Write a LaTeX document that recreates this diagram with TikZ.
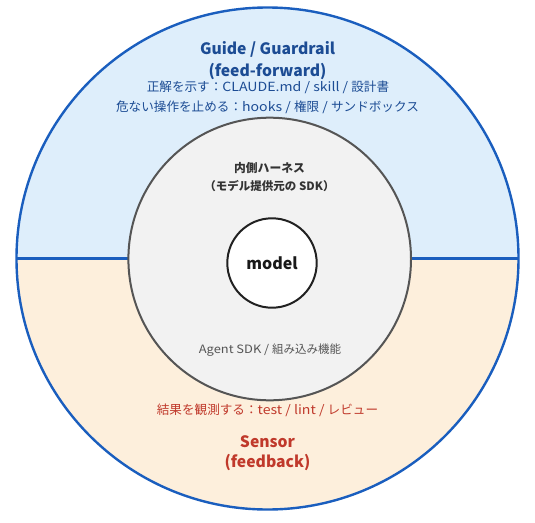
\documentclass[tikz,border=0pt]{standalone}
\usepackage{fontspec}
\setmainfont{Noto Sans CJK JP}
\newfontfamily\jp{Noto Sans CJK JP}
\newfontfamily\lat[FakeStretch=1.12]{Noto Sans CJK JP}
\definecolor{topfill}{HTML}{DEEEFB}
\definecolor{botfill}{HTML}{FDEFDC}
\definecolor{outerline}{HTML}{1A5EBE}
\definecolor{guidetext}{HTML}{1C4C94}
\definecolor{sensortext}{HTML}{C0392B}
\definecolor{midfill}{HTML}{F2F2F2}
\definecolor{midline}{HTML}{555555}
\definecolor{midtext}{HTML}{333333}
\tikzset{
  lbl/.style={inner sep=0pt, anchor=center},
  ttl/.style={lbl, font=\fontsize{15.7}{18}\selectfont\bfseries},
  sub/.style={lbl, font=\fontsize{12.6}{14}\selectfont},
}
\begin{document}
\begin{tikzpicture}[x=1pt,y=-1pt]
\useasboundingbox (0,0) rectangle (535,522);
\coordinate (oc) at (267.5,258.5);
\begin{scope}
  \clip (oc) circle (251);
  \fill[topfill] (0,0) rectangle (535,258.5);
  \fill[botfill] (0,258.5) rectangle (535,522);
\end{scope}
\draw[outerline, line width=2.4pt] (oc) circle (251);
\coordinate (dl) at (16.5,258.5);
\coordinate (dr) at (518.5,258.5);
\draw[outerline, line width=2.4pt] (dl) -- (dr);
\node[circle, draw=midline, fill=midfill, line width=2pt, minimum size=282.6pt, inner sep=0pt] (harness) at (269.7,259) {};
\node[circle, draw=black!87, fill=white, line width=2pt, minimum size=89.4pt, inner sep=0pt] (model) at (272,263) {};
\node[lbl, font=\fontsize{16}{20}\selectfont\bfseries, text=black!90] (modeltxt) at (272,263) {model};

\node[ttl, text=guidetext] (g1) at (267.5,49) {Guide / Guardrail};
\node[ttl, text=guidetext] (g2) at (267.5,71.5) {(feed-forward)};
\node[sub, text=guidetext] (g3) at (268,87) {正解を示す：{\lat CLAUDE.md / skill / }設計書};
\node[sub, text=guidetext] (g4) at (267.5,107) {危ない操作を止める：{\lat hooks / }権限{\lat{} / }サンドボックス};

\node[lbl, font=\fontsize{11.8}{13}\selectfont\bfseries, text=midtext] (h1) at (269.5,168) {内側ハーネス};
\node[lbl, font=\fontsize{11.5}{13}\selectfont\bfseries, text=midtext] (h2) at (269.5,186) {（モデル提供元の SDK）};
\node[lbl, font=\fontsize{11.5}{13}\selectfont, text=midline] (h3) at (270,350) {{\lat Agent SDK / }組み込み機能};

\node[sub, text=sensortext] (s1) at (267.5,410.5) {結果を観測する：{\lat test / lint / }レビュー};
\node[ttl, text=sensortext] (s2) at (267.5,441.5) {Sensor};
\node[ttl, text=sensortext] (s3) at (267.5,462.5) {(feedback)};
\end{tikzpicture}
\end{document}
